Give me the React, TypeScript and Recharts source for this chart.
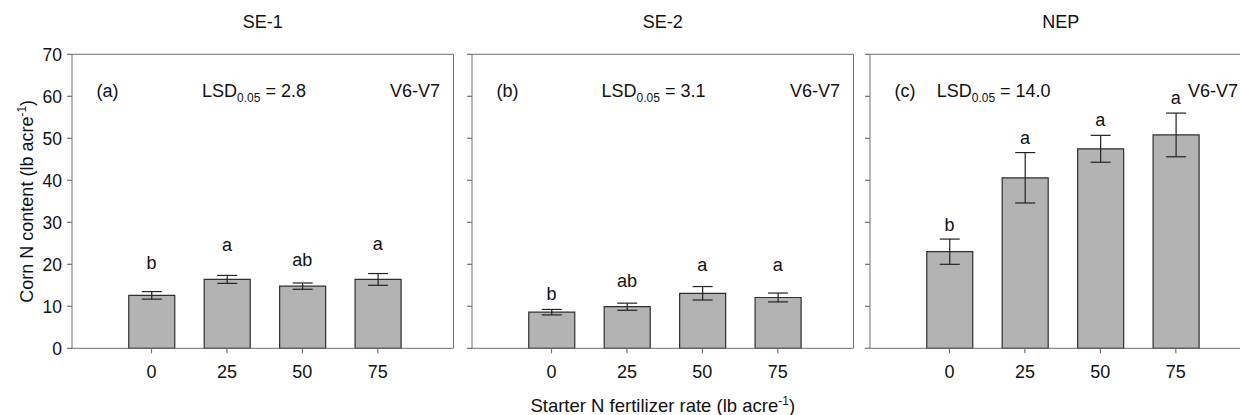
import { ComposedChart, Bar, Scatter, XAxis, YAxis, ErrorBar } from 'recharts';

const rates = ['0', '25', '50', '75'];
const yTicks = [0, 10, 20, 30, 40, 50, 60, 70];
const yMax = 70;

const titles = ['SE-1', 'SE-2', 'NEP'];
const tags = ['(a)', '(b)', '(c)'];
const lsdValues = ['2.8', '3.1', '14.0'];
const stage = 'V6-V7';

// corn N content means and error bars
const se1Means = [12.6, 16.4, 14.8, 16.4];
const se1Errs = [0.9, 0.95, 0.75, 1.4];
const se1Letters = ['b', 'a', 'ab', 'a'];
const se1LetterY = [18.8, 23.2, 19.7, 23.5];

const se2Means = [8.6, 9.9, 13.1, 12.1];
const se2Errs = [0.65, 0.85, 1.6, 1.05];
const se2Letters = ['b', 'ab', 'a', 'a'];
const se2LetterY = [11.5, 14.7, 18.5, 18.5];

const nepMeans = [23.0, 40.6, 47.5, 50.8];
const nepErrs = [3.0, 6.0, 3.2, 5.2];
const nepLetters = ['b', 'a', 'a', 'a'];
const nepLetterY = [28.0, 48.7, 53.0, 58.2];

const FONT = 'Liberation Sans, Arial, sans-serif';
const AXIS = '#707070';
const INK = '#111';
const FS = 18;

const build = (means: number[], errs: number[], letters: string[], ly: number[]) =>
  rates.map((rate, i) => ({ rate, mean: means[i], err: errs[i], letter: letters[i], ly: ly[i] }));

const panels = [
  { data: build(se1Means, se1Errs, se1Letters, se1LetterY), lsdX: 130 },
  { data: build(se2Means, se2Errs, se2Letters, se2LetterY), lsdX: 129.5 },
  { data: build(nepMeans, nepErrs, nepLetters, nepLetterY), lsdX: 66.7 },
];

const PLOT_W = 381.5;
const PLOT_TOP = 54.3;
const X_AXIS_H = 415 - 348.3;
const Y_W = 72;
const TICK = 5;

function PanelHead(props: any) {
  const { viewBox, title, tag, lsd, lsdX } = props;
  const { x, width } = viewBox;
  const y = viewBox.y + viewBox.height;
  return (
    <g fontFamily={FONT} fill={INK} fontSize={FS}>
      <text x={x + width / 2} y={y - 26} textAnchor="middle">{title}</text>
      <text x={x + 24.5} y={y + 43}>{tag}</text>
      <text x={x + lsdX} y={y + 43}>
        LSD<tspan fontSize={12} dy={5}>0.05</tspan>
        <tspan dy={-5}>{` = ${lsd}`}</tspan>
      </text>
      <text x={x + 318} y={y + 43}>{stage}</text>
    </g>
  );
}

// y-axis tick marks (and, on the first panel, the rotated axis title)
function YDecor(props: any) {
  const { viewBox, withTitle } = props;
  const ax = viewBox.x + viewBox.width;
  const cy = viewBox.y + viewBox.height / 2;
  return (
    <g>
      {yTicks.map((t) => {
        const ty = viewBox.y + viewBox.height * (1 - t / yMax);
        return <line key={t} x1={ax - TICK} x2={ax} y1={ty} y2={ty} stroke={AXIS} strokeWidth={1.2} />;
      })}
      {withTitle && (
        <text x={33} y={cy} transform={`rotate(-90, 33, ${cy})`} textAnchor="middle" fontSize={FS} fontFamily={FONT} fill={INK}>
          Corn N content (lb acre<tspan fontSize={12} dy={-7}>-1</tspan><tspan dy={7}>)</tspan>
        </text>
      )}
    </g>
  );
}

function XTitle(props: any) {
  const { viewBox } = props;
  return (
    <text x={viewBox.x + viewBox.width / 2} y={viewBox.y + 63.5} textAnchor="middle" fontSize={18.5} fontFamily={FONT} fill={INK}>
      Starter N fertilizer rate (lb acre<tspan fontSize={12} dy={-7}>-1</tspan><tspan dy={7}>)</tspan>
    </text>
  );
}

// category tick: short mark under the axis plus its label
const XTick = (p: any) => {
  const axisY = p.y - 13 - TICK;
  return (
    <g>
      <line x1={p.x} x2={p.x} y1={axisY} y2={axisY + TICK} stroke={AXIS} strokeWidth={1.2} />
      <text x={p.x} y={axisY + 30} textAnchor="middle" fontSize={FS} fontFamily={FONT} fill={INK}>
        {p.payload.value}
      </text>
    </g>
  );
};

const Letter = (p: any) => (
  <text x={p.cx} y={p.cy} textAnchor="middle" fontSize={FS} fontFamily={FONT} fill={INK}>
    {p.payload.letter}
  </text>
);

function Panel({ idx, left }: { idx: number; left: number }) {
  const { data, lsdX } = panels[idx];
  const first = idx === 0;
  const w = Y_W + PLOT_W + 2;
  return (
    <div style={{ position: 'absolute', left: left - Y_W, top: 0 }}>
      <ComposedChart width={w} height={415} data={data} margin={{ top: PLOT_TOP - 1, right: 1, bottom: 0, left: 0 }}>
        <XAxis
          dataKey="rate"
          height={X_AXIS_H}
          padding={{ left: 41.75, right: 37.95 }}
          stroke={AXIS}
          tickLine={false}
          tickSize={TICK}
          tickMargin={13}
          tick={XTick}
          label={idx === 1 ? { content: (p: any) => <XTitle {...p} /> } : undefined}
        />
        <XAxis
          xAxisId="top"
          dataKey="rate"
          orientation="top"
          height={1}
          padding={{ left: 41.75, right: 37.95 }}
          stroke={AXIS}
          tick={false}
          tickLine={false}
          label={{
            content: (p: any) => (
              <PanelHead {...p} title={titles[idx]} tag={tags[idx]} lsd={lsdValues[idx]} lsdX={lsdX} />
            ),
          }}
        />
        <YAxis
          width={Y_W}
          domain={[0, yMax]}
          ticks={yTicks}
          interval={0}
          stroke={AXIS}
          tickLine={false}
          tickSize={TICK}
          tickMargin={5}
          tick={first ? { fontSize: 17.5, fill: INK, fontFamily: FONT } : false}
          label={{ content: (p: any) => <YDecor {...p} withTitle={first} /> }}
        />
        <YAxis yAxisId="right" orientation="right" width={1} domain={[0, yMax]} stroke={AXIS} tick={false} tickLine={false} />
        <Bar dataKey="mean" fill="#b3b3b3" stroke="#2e2e2e" strokeWidth={1.2} barSize={46} isAnimationActive={false}>
          <ErrorBar dataKey="err" width={10} stroke="#222" strokeWidth={1.2} direction="y" />
        </Bar>
        <Scatter dataKey="ly" shape={Letter} isAnimationActive={false} />
      </ComposedChart>
    </div>
  );
}

export default function App() {
  return (
    <div style={{ position: 'absolute', left: 0, top: 0, width: 1240, height: 415, overflow: 'hidden', background: '#fff' }}>
      <Panel idx={0} left={72} />
      <Panel idx={1} left={471.5} />
      <Panel idx={2} left={870} />
    </div>
  );
}
